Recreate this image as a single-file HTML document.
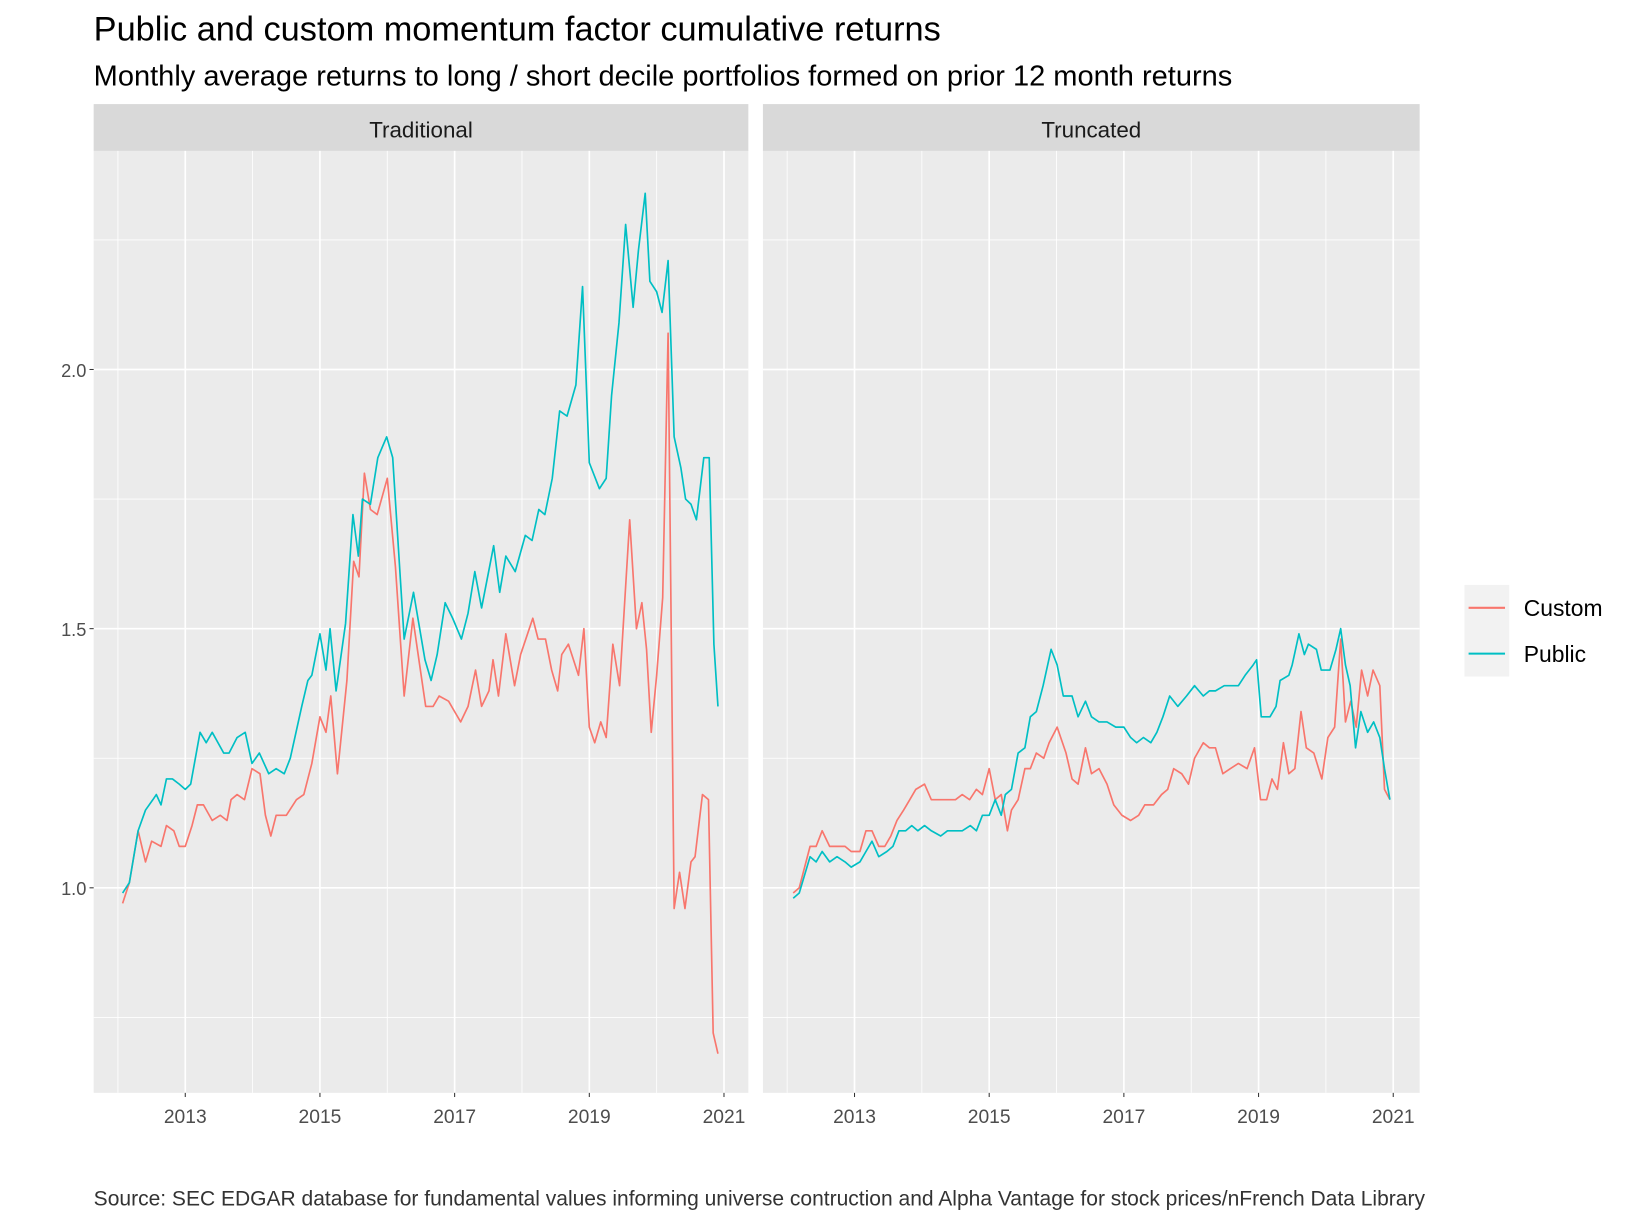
<!DOCTYPE html>
<html><head><meta charset="utf-8"><style>
html,body{margin:0;padding:0;background:#fff;}
svg{display:block;font-family:"Liberation Sans",sans-serif;}
</style></head><body>
<svg id="chart" width="1632" height="1224" viewBox="0 0 1568 1176" xmlns="http://www.w3.org/2000/svg">
<text x="90" y="39" font-size="33" fill="#000">Public and custom momentum factor cumulative returns</text>
<text x="90" y="82" font-size="27.9" fill="#000">Monthly average returns to long / short decile portfolios formed on prior 12 month returns</text>
<g id="panels"></g>
<g>
<rect x="1407" y="562" width="43" height="88" fill="#f2f2f2"/>
<line x1="1411" y1="584" x2="1446" y2="584" stroke="#F8766D" stroke-width="2"/>
<line x1="1411" y1="628" x2="1446" y2="628" stroke="#00BFC4" stroke-width="2"/>
<text x="1464" y="592" font-size="22">Custom</text>
<text x="1464" y="636" font-size="22">Public</text>
</g>
<text x="90" y="1158" font-size="20.2" fill="#333">Source: SEC EDGAR database for fundamental values informing universe contruction and Alpha Vantage for stock prices/nFrench Data Library</text>
</svg>
<script>
const tradPublicYears=[2012.07,2012.17,2012.3,2012.41,2012.52,2012.57,2012.64,2012.72,2012.81,2012.91,2013,2013.08,2013.22,2013.31,2013.4,2013.57,2013.65,2013.77,2013.89,2013.99,2014.1,2014.24,2014.35,2014.47,2014.56,2014.73,2014.82,2014.88,2015,2015.09,2015.15,2015.24,2015.38,2015.49,2015.57,2015.63,2015.75,2015.86,2015.99,2016.08,2016.25,2016.39,2016.56,2016.65,2016.74,2016.86,2016.97,2017.1,2017.2,2017.3,2017.4,2017.58,2017.67,2017.76,2017.9,2018.05,2018.15,2018.25,2018.34,2018.45,2018.56,2018.67,2018.8,2018.9,2019,2019.15,2019.25,2019.33,2019.44,2019.54,2019.65,2019.73,2019.83,2019.9,2020,2020.08,2020.17,2020.26,2020.36,2020.43,2020.51,2020.59,2020.7,2020.78,2020.85,2020.91];
const tradPublicValues=[0.99,1.01,1.11,1.15,1.17,1.18,1.16,1.21,1.21,1.2,1.19,1.2,1.3,1.28,1.3,1.26,1.26,1.29,1.3,1.24,1.26,1.22,1.23,1.22,1.25,1.35,1.4,1.41,1.49,1.42,1.5,1.38,1.51,1.72,1.64,1.75,1.74,1.83,1.87,1.83,1.48,1.57,1.44,1.4,1.45,1.55,1.52,1.48,1.53,1.61,1.54,1.66,1.57,1.64,1.61,1.68,1.67,1.73,1.72,1.79,1.92,1.91,1.97,2.16,1.82,1.77,1.79,1.95,2.09,2.28,2.12,2.23,2.34,2.17,2.15,2.11,2.21,1.87,1.81,1.75,1.74,1.71,1.83,1.83,1.47,1.35];
const tradCustomYears=[2012.07,2012.17,2012.3,2012.41,2012.5,2012.64,2012.72,2012.83,2012.91,2013,2013.1,2013.18,2013.27,2013.4,2013.52,2013.62,2013.68,2013.77,2013.88,2013.99,2014.11,2014.19,2014.27,2014.35,2014.5,2014.65,2014.76,2014.88,2015,2015.09,2015.16,2015.26,2015.4,2015.5,2015.58,2015.66,2015.75,2015.85,2016,2016.12,2016.25,2016.38,2016.48,2016.57,2016.68,2016.77,2016.91,2017,2017.09,2017.2,2017.31,2017.4,2017.51,2017.57,2017.65,2017.76,2017.89,2017.98,2018.16,2018.24,2018.35,2018.44,2018.53,2018.59,2018.69,2018.84,2018.92,2019,2019.08,2019.17,2019.25,2019.35,2019.45,2019.6,2019.7,2019.78,2019.85,2019.92,2020,2020.09,2020.17,2020.26,2020.34,2020.42,2020.51,2020.57,2020.68,2020.77,2020.84,2020.91];
const tradCustomValues=[0.97,1.01,1.11,1.05,1.09,1.08,1.12,1.11,1.08,1.08,1.12,1.16,1.16,1.13,1.14,1.13,1.17,1.18,1.17,1.23,1.22,1.14,1.1,1.14,1.14,1.17,1.18,1.24,1.33,1.3,1.37,1.22,1.4,1.63,1.6,1.8,1.73,1.72,1.79,1.62,1.37,1.52,1.43,1.35,1.35,1.37,1.36,1.34,1.32,1.35,1.42,1.35,1.38,1.44,1.37,1.49,1.39,1.45,1.52,1.48,1.48,1.42,1.38,1.45,1.47,1.41,1.5,1.31,1.28,1.32,1.29,1.47,1.39,1.71,1.5,1.55,1.46,1.3,1.41,1.56,2.07,0.96,1.03,0.96,1.05,1.06,1.18,1.17,0.72,0.68];
const truncPublicYears=[2012.09,2012.18,2012.34,2012.43,2012.52,2012.63,2012.74,2012.86,2012.95,2013.08,2013.17,2013.26,2013.36,2013.48,2013.57,2013.66,2013.76,2013.85,2013.94,2014.04,2014.14,2014.28,2014.38,2014.47,2014.6,2014.72,2014.81,2014.9,2015,2015.09,2015.18,2015.24,2015.33,2015.43,2015.53,2015.61,2015.7,2015.8,2015.92,2016.01,2016.1,2016.23,2016.32,2016.43,2016.52,2016.63,2016.75,2016.88,2017,2017.1,2017.19,2017.29,2017.4,2017.49,2017.58,2017.68,2017.8,2017.93,2018.05,2018.18,2018.27,2018.36,2018.49,2018.58,2018.7,2018.8,2018.92,2018.97,2019.04,2019.17,2019.26,2019.32,2019.45,2019.5,2019.6,2019.68,2019.74,2019.86,2019.93,2020.06,2020.15,2020.22,2020.29,2020.36,2020.44,2020.52,2020.62,2020.71,2020.8,2020.87,2020.95];
const truncPublicValues=[0.98,0.99,1.06,1.05,1.07,1.05,1.06,1.05,1.04,1.05,1.07,1.09,1.06,1.07,1.08,1.11,1.11,1.12,1.11,1.12,1.11,1.1,1.11,1.11,1.11,1.12,1.11,1.14,1.14,1.17,1.14,1.18,1.19,1.26,1.27,1.33,1.34,1.39,1.46,1.43,1.37,1.37,1.33,1.36,1.33,1.32,1.32,1.31,1.31,1.29,1.28,1.29,1.28,1.3,1.33,1.37,1.35,1.37,1.39,1.37,1.38,1.38,1.39,1.39,1.39,1.41,1.43,1.44,1.33,1.33,1.35,1.4,1.41,1.43,1.49,1.45,1.47,1.46,1.42,1.42,1.46,1.5,1.43,1.39,1.27,1.34,1.3,1.32,1.29,1.23,1.17];
const truncCustomYears=[2012.09,2012.18,2012.34,2012.43,2012.52,2012.63,2012.77,2012.86,2012.95,2013.08,2013.17,2013.26,2013.36,2013.45,2013.54,2013.63,2013.73,2013.82,2013.91,2014.04,2014.14,2014.25,2014.38,2014.5,2014.6,2014.71,2014.81,2014.9,2015,2015.09,2015.18,2015.27,2015.33,2015.43,2015.53,2015.61,2015.7,2015.81,2015.89,2016.01,2016.14,2016.23,2016.32,2016.43,2016.52,2016.63,2016.75,2016.85,2016.97,2017.1,2017.22,2017.31,2017.44,2017.56,2017.65,2017.74,2017.86,2017.96,2018.05,2018.18,2018.27,2018.36,2018.47,2018.58,2018.7,2018.83,2018.94,2019.03,2019.12,2019.2,2019.28,2019.37,2019.45,2019.54,2019.63,2019.71,2019.82,2019.94,2020.03,2020.13,2020.22,2020.29,2020.37,2020.45,2020.53,2020.62,2020.7,2020.8,2020.87,2020.95];
const truncCustomValues=[0.99,1.0,1.08,1.08,1.11,1.08,1.08,1.08,1.07,1.07,1.11,1.11,1.08,1.08,1.1,1.13,1.15,1.17,1.19,1.2,1.17,1.17,1.17,1.17,1.18,1.17,1.19,1.18,1.23,1.17,1.18,1.11,1.15,1.17,1.23,1.23,1.26,1.25,1.28,1.31,1.26,1.21,1.2,1.27,1.22,1.23,1.2,1.16,1.14,1.13,1.14,1.16,1.16,1.18,1.19,1.23,1.22,1.2,1.25,1.28,1.27,1.27,1.22,1.23,1.24,1.23,1.27,1.17,1.17,1.21,1.19,1.28,1.22,1.23,1.34,1.27,1.26,1.21,1.29,1.31,1.48,1.32,1.36,1.31,1.42,1.37,1.42,1.39,1.19,1.17];
const yTickValues=[1.0,1.5,2.0];
const yMinorValues=[0.75,1.25,1.75,2.25];
const xTickLabels=[2013,2015,2017,2019,2021];
const xMinorValues=[2012,2014,2016,2018,2020];

const NS="http://www.w3.org/2000/svg";
const panelsG=document.getElementById('panels');
const plotTop=145,plotBottom=1050;
function yScale(v){return 853-(v-1)*498;}
function mk(tag,attrs,parent){const e=document.createElementNS(NS,tag);for(const k in attrs)e.setAttribute(k,attrs[k]);parent.appendChild(e);return e;}
const panels=[
 {name:'traditional',label:'Traditional',x0:90,x1:719,ref:178,series:[[tradCustomYears,tradCustomValues,'#F8766D','custom'],[tradPublicYears,tradPublicValues,'#00BFC4','public']]},
 {name:'truncated',label:'Truncated',x0:733,x1:1364,ref:821,series:[[truncCustomYears,truncCustomValues,'#F8766D','custom'],[truncPublicYears,truncPublicValues,'#00BFC4','public']]}
];
panels.forEach((p,pi)=>{
 const g=mk('g',{},panelsG);
 
 
 const xs=y=>p.ref+(y-2013)*64.7;
 const bg=mk('rect',{x:p.x0,y:plotTop,width:p.x1-p.x0,height:plotBottom-plotTop,fill:'#ebebeb'},g);
 
 
 const strip=mk('rect',{x:p.x0,y:100,width:p.x1-p.x0,height:45,fill:'#d9d9d9'},g);
 
 
 const st=mk('text',{x:(p.x0+p.x1)/2,y:132,'font-size':21.5,'text-anchor':'middle',fill:'#1a1a1a'},g);
 st.textContent=p.label;
 
 
 yMinorValues.forEach(v=>{const l=mk('line',{x1:p.x0,x2:p.x1,y1:yScale(v),y2:yScale(v),stroke:'#fff','stroke-width':0.8},g);
  
  });
 xMinorValues.forEach(v=>{const l=mk('line',{x1:xs(v),x2:xs(v),y1:plotTop,y2:plotBottom,stroke:'#fff','stroke-width':0.8},g);
  
  });
 yTickValues.forEach(v=>{const l=mk('line',{x1:p.x0,x2:p.x1,y1:yScale(v),y2:yScale(v),stroke:'#fff','stroke-width':1.6},g);
  
  
  if(pi===0){
   const t=mk('line',{x1:p.x0-4,x2:p.x0,y1:yScale(v),y2:yScale(v),stroke:'#333','stroke-width':1},g);
   
   
   const tx=mk('text',{x:p.x0-7,y:yScale(v)+7,'font-size':17.5,'text-anchor':'end',fill:'#4d4d4d'},g);
   tx.textContent=v.toFixed(1);
   
   
  }});
 xTickLabels.forEach(v=>{const l=mk('line',{x1:xs(v),x2:xs(v),y1:plotTop,y2:plotBottom,stroke:'#fff','stroke-width':1.6},g);
  
  
  const t=mk('line',{x1:xs(v),x2:xs(v),y1:plotBottom,y2:plotBottom+4,stroke:'#333','stroke-width':1},g);
  
  
  const tx=mk('text',{x:xs(v),y:plotBottom+29,'font-size':18.5,'text-anchor':'middle',fill:'#4d4d4d'},g);
  tx.textContent=String(v);
  
  });
 p.series.forEach(s=>{
  const d=s[0].map((yr,i)=>(i?'L':'M')+xs(yr).toFixed(1)+','+yScale(s[1][i]).toFixed(1)).join('');
  const path=mk('path',{d:d,fill:'none',stroke:s[2],'stroke-width':1.6,'stroke-linejoin':'round'},g);
  
  
 });
});
</script>
</body></html>
